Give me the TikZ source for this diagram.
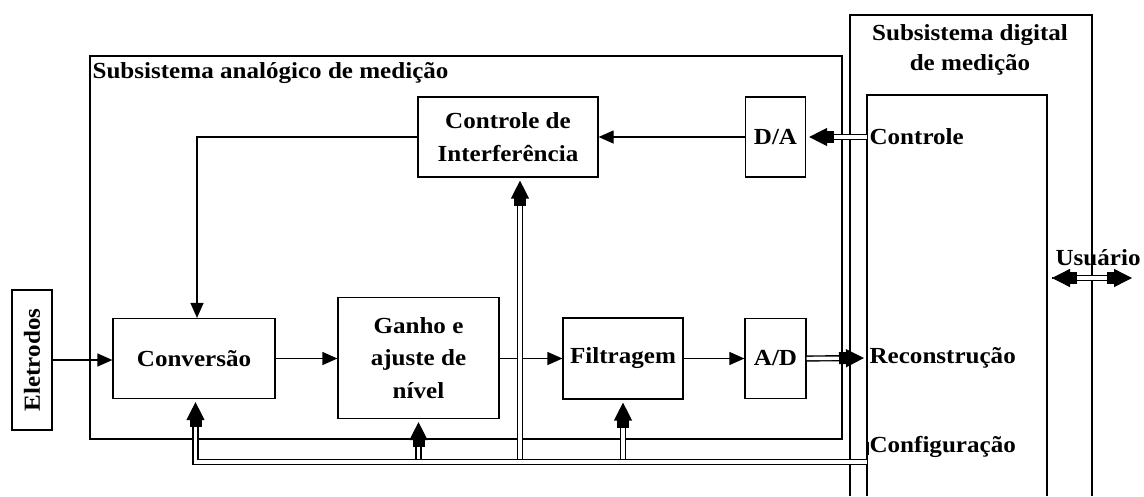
\documentclass[tikz,border=0pt]{standalone}
\usepackage{fontspec}
\setmainfont{Liberation Serif}[FakeStretch=1.09]
\usetikzlibrary{arrows.meta}
\begin{document}
\begin{tikzpicture}[x=1pt,y=-1pt, line width=1.2pt,
  every node/.style={font=\fontsize{23}{33}\selectfont\bfseries},
  box/.style={draw, line width=1.2pt, align=center, inner sep=0pt},
  lbl/.style={inner sep=2pt, anchor=west},
  arr/.style={-{Triangle[length=15pt,width=13pt]}},
  dbl/.style={double, double distance=3.4pt, line width=1.4pt},
  dhead/.tip={Rectangle[length=9pt,width=12pt,sep=-2pt] Triangle[length=18pt,width=18pt]},
  dtip/.style={-{dhead}, shorten >=3pt},
]
\useasboundingbox (0,0) rectangle (1144,496);

% outer frames
\draw (90,56) rectangle (842,439);
\draw (850,496) |- (1092,15) -- (1092,496);
\draw (867,496) |- (1047,95) -- (1047,496);

% titles
\node[anchor=west, inner sep=0pt] (antitle) at (92,73) {Subsistema analógico de medição};
\node[align=center, inner sep=0pt, font=\fontsize{23}{30}\selectfont\bfseries] (dgtitle) at (970,50) {Subsistema digital\\de medição};

% blocks
\node[box, minimum width=40pt, minimum height=140pt] (elet) at (32,360) {\rotatebox{90}{Eletrodos}};
\node[box, minimum width=162pt, minimum height=80pt] (conv) at (194,358.5) {Conversão};
\node[box, minimum width=161pt, minimum height=121pt, font=\fontsize{23}{32.5}\selectfont\bfseries] (ganho) at (418.5,358) {Ganho e\\ajuste de\\nível};
\node[box, minimum width=120pt, minimum height=81pt] (filt) at (623,358.5) {Filtragem};
\node[box, minimum width=61pt, minimum height=80pt] (ad) at (775.5,358.5) {A/D};
\node[box, minimum width=60pt, minimum height=80pt] (da) at (775.5,137) {D/A};
\node[box, minimum width=180pt, minimum height=80pt] (ci) at (508,137) {Controle de\\Interferência};

% digital side labels
\node[lbl] (ctrl) at (867,137) {Controle};
\node[lbl] (recon) at (867,358) {Reconstrução};
\node[lbl] (config) at (867,447) {Configuração};
\node[lbl] (usr) at (1053,258) {Usuário};

% signal path
\draw[arr] (elet.east) -- (elet.east -| conv.west);
\draw[arr] (conv.east) -- (conv.east -| ganho.west);
\draw[arr] (ganho.east |- filt.west) -- (filt.west);
\draw[arr] (filt.east) -- (ad.west);
\draw[dbl,dtip] (ad.east) -- (recon.west);
\draw[dbl,dtip] (ctrl.west) -- (da.east);
\draw[arr] (da.west) -- (ci.east);
\draw[arr] (ci.west) -| ([xshift=3pt]conv.north);

% configuration bus
\coordinate (bus) at (0,462);
\draw[dbl,dtip] (ganho.south |- bus) -- (ganho.south);
\draw[dbl,dtip] (filt.south |- bus) -- (filt.south);
\draw[dbl,dtip] ([xshift=12pt]ci.south |- bus) -- ([xshift=12pt]ci.south);
\draw[dbl,dtip] (config.west |- bus) -| ([xshift=1.5pt]conv.south);
\fill (866,442) rectangle (869,455);

% user link
\coordinate (ul) at (1052,278);
\coordinate (ur) at (1132,278);
\draw[line width=1.2pt] (usr.west |- ul) -- (ul);
\draw[dbl, {dhead}-{dhead}] (ul) -- (ur);
\end{tikzpicture}
\end{document}
